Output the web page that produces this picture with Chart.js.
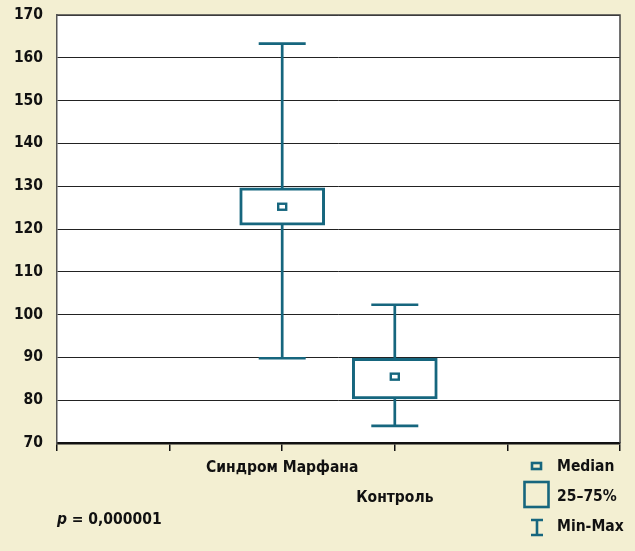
<!DOCTYPE html>
<html>
<head>
<meta charset="utf-8">
<script src="https://cdn.jsdelivr.net/npm/chart.js@4/dist/chart.umd.min.js"></script>
<style>
  html, body { margin: 0; padding: 0; background: #f3efd2; }
  #wrap { position: relative; width: 635px; height: 551px; }
  canvas { display: block; }
</style>
</head>
<body>
<div id="wrap"><canvas id="c" width="635" height="551"></canvas></div>
<script>
// ---- data ----
const categories = ['', '', 'Синдром Марфана', 'Контроль', '', ''];
const q1Values = [null, null, 120.9, 80.3, null, null];
const q3Values = [null, null, 129.6, 89.8, null, null];
const medianValues = [null, null, 125.2, 85.5, null, null];
const minValues = [null, null, 89.8, 74.0, null, null];
const maxValues = [null, null, 163.3, 102.3, null, null];
const yMin = 70, yMax = 170, yStep = 10;
const legendLabels = ['Median', '25–75%', 'Min-Max'];
const pLabel = 'p';
const pValueText = ' = 0,000001';

// ---- style ----
const TEAL = '#16667e';
const FONT = '"Liberation Sans Narrow", "DejaVu Sans Condensed", sans-serif';
const FS = 15.5;

const boxData = categories.map((c, i) => q1Values[i] == null ? null : [q1Values[i], q3Values[i]]);

const boxPlugin = {
  id: 'boxExtras',
  beforeDraw(chart) {
    const { ctx, chartArea: a } = chart;
    ctx.save();
    ctx.fillStyle = '#ffffff';
    ctx.fillRect(a.left, a.top, a.right - a.left, a.bottom - a.top);
    ctx.restore();
  },
  beforeDatasetsDraw(chart) {
    const { ctx, chartArea: a } = chart;
    const xs = chart.scales.x, ys = chart.scales.y;
    ctx.save();
    ctx.strokeStyle = '#444';
    ctx.lineWidth = 1.5;
    ctx.beginPath();
    ctx.moveTo(a.left, a.top); ctx.lineTo(a.right, a.top); ctx.lineTo(a.right, a.bottom);
    ctx.stroke();
    ctx.strokeStyle = TEAL;
    ctx.lineWidth = 2.7;
    categories.forEach((c, i) => {
      if (minValues[i] == null) return;
      const x = xs.getPixelForValue(i);
      const yMinP = ys.getPixelForValue(minValues[i]);
      const yMaxP = ys.getPixelForValue(maxValues[i]);
      ctx.beginPath();
      ctx.moveTo(x, yMinP); ctx.lineTo(x, yMaxP);
      ctx.moveTo(x - 23.5, yMinP); ctx.lineTo(x + 23.5, yMinP);
      ctx.moveTo(x - 23.5, yMaxP); ctx.lineTo(x + 23.5, yMaxP);
      ctx.stroke();
    });
    ctx.restore();
  },
  afterDatasetsDraw(chart) {
    const { ctx } = chart;
    const xs = chart.scales.x, ys = chart.scales.y;
    ctx.save();
    ctx.strokeStyle = TEAL;
    ctx.fillStyle = '#ffffff';
    ctx.lineWidth = 2.4;
    categories.forEach((c, i) => {
      if (medianValues[i] == null) return;
      const x = xs.getPixelForValue(i);
      const y = ys.getPixelForValue(medianValues[i]);
      ctx.fillRect(x - 4, y - 3, 8, 6);
      ctx.strokeRect(x - 4, y - 3, 8, 6);
    });
    ctx.restore();
  },
  afterDraw(chart) {
    const { ctx } = chart;
    ctx.save();
    ctx.strokeStyle = TEAL;
    ctx.lineWidth = 2.6;
    ctx.strokeRect(532, 463, 9, 6);
    ctx.strokeRect(524.5, 482, 24, 25);
    ctx.beginPath();
    ctx.moveTo(531, 520); ctx.lineTo(543, 520);
    ctx.moveTo(537, 520); ctx.lineTo(537, 535);
    ctx.moveTo(531, 535); ctx.lineTo(543, 535);
    ctx.stroke();
    ctx.fillStyle = '#111';
    ctx.font = 'bold ' + FS + 'px ' + FONT;
    ctx.textBaseline = 'middle';
    ctx.textAlign = 'left';
    ctx.fillText(legendLabels[0], 557, 467);
    ctx.fillText(legendLabels[1], 557, 497);
    ctx.fillText(legendLabels[2], 557, 527);
    ctx.font = 'italic bold ' + FS + 'px ' + FONT;
    ctx.fillText(pLabel, 57, 520);
    const w = ctx.measureText(pLabel).width;
    ctx.font = 'bold ' + FS + 'px ' + FONT;
    ctx.fillText(pValueText, 57 + w, 520);
    ctx.restore();
  }
};

new Chart(document.getElementById('c'), {
  type: 'bar',
  data: {
    labels: categories,
    datasets: [{
      data: boxData,
      backgroundColor: '#ffffff',
      borderColor: TEAL,
      borderWidth: 3,
      borderSkipped: false,
      barThickness: 85,
      grouped: false
    }]
  },
  options: {
    responsive: false,
    animation: false,
    events: [],
    layout: { padding: { top: 15, right: 15, left: 0, bottom: 0 } },
    plugins: { legend: { display: false }, tooltip: { enabled: false } },
    scales: {
      x: {
        offset: false,
        grid: { offset: false, drawOnChartArea: false, drawTicks: true, tickLength: 8, color: '#111', lineWidth: 1.5 },
        border: { display: true, color: '#111', width: 2.5 },
        ticks: {
          autoSkip: false, maxRotation: 0, minRotation: 0,
          color: '#111',
          font: { family: FONT, size: FS, weight: 'bold', lineHeight: 1.95 },
          padding: 2,
          callback: (v, i) => i === 3 ? ['', categories[i]] : categories[i]
        },
        afterFit: s => { s.height = 108; }
      },
      y: {
        min: yMin, max: yMax,
        grid: { color: '#222', lineWidth: 1, drawTicks: false },
        border: { display: true, color: '#555', width: 1.5 },
        ticks: {
          stepSize: yStep,
          color: '#111',
          padding: 14,
          font: { family: FONT, size: FS, weight: 'bold' }
        },
        afterFit: s => { s.width = 57; s.paddingTop = 0; s.paddingBottom = 0; }
      }
    }
  },
  plugins: [boxPlugin]
});
</script>
</body>
</html>
